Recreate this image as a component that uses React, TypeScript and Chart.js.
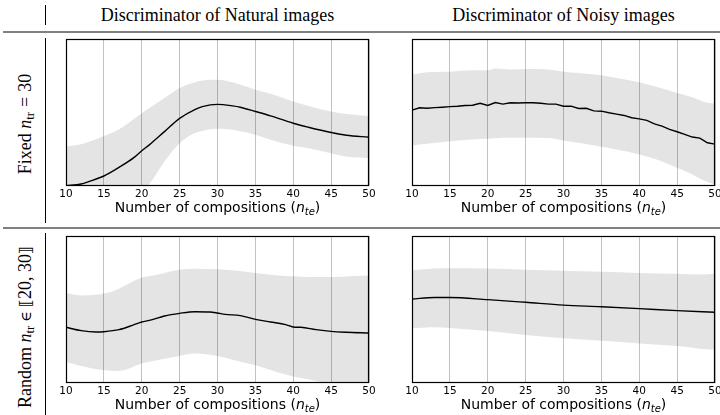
import React, { useEffect, useRef } from "react";
import { Chart, registerables } from "chart.js";

Chart.register(...registerables);

// ---------- data (y in % of plot height, 0 = bottom, 100 = top) ----------
const X_TICKS = [10, 15, 20, 25, 30, 35, 40, 45, 50];

// Top-left: Fixed n_tr = 30, Natural
const TL_MEAN_X = [10, 12, 13, 15, 17, 19, 20, 21, 23, 25, 27, 28, 30, 32, 33, 35, 37, 40, 42, 45, 47, 50];
const TL_MEAN_Y = [0.2, 1.4, 3, 6.8, 12.7, 19.5, 24, 28, 37, 46, 52, 54, 55.5, 54.5, 53.6, 50.7, 47.7, 42.7, 40, 36.4, 34.5, 33.2];
const TL_BAND_X = [10, 12, 15, 17, 20, 21, 23, 25, 27, 28, 30, 32, 35, 37, 40, 42, 45, 47, 50];
const TL_UPPER = [26.8, 28.4, 34, 38.6, 49.5, 53, 59.8, 66.6, 70.5, 71.8, 72.3, 70.5, 65.5, 62.7, 57.5, 54.5, 50.7, 49, 47.7];
const TL_LOWER = [-26.4, -24, -20.4, -16, -2, 1.4, 16.6, 29, 36, 37.5, 38.9, 38.2, 34.8, 31.4, 27.3, 25.7, 22.3, 20, 18.9];

// Top-right: Fixed n_tr = 30, Noisy
const TR_MEAN_X = [10, 11, 12, 13, 14, 15, 16, 17, 18, 19, 20, 21, 22, 23, 24, 25, 26, 27, 28, 29, 30, 31, 32, 33, 34, 35, 36, 37, 38, 39, 40, 41, 42, 43, 44, 45, 46, 47, 48, 49, 50];
const TR_MEAN_Y = [51.6, 53.2, 52.9, 53.3, 53.6, 54.0, 54.3, 54.8, 54.9, 56.3, 54.8, 56.8, 55.7, 56.6, 56.5, 56.6, 56.6, 56.3, 55.7, 55.7, 54.3, 54.3, 52.7, 52.9, 51.1, 50.9, 49.8, 48.9, 48.0, 46.4, 45.7, 44.6, 42.3, 40.7, 38.5, 36.9, 35.1, 33.3, 32.6, 29.4, 28.5];
const TR_BAND_X = [10, 12, 15, 18, 20, 21, 23, 25, 28, 30, 32, 35, 37, 40, 42, 45, 47, 49, 50];
const TR_UPPER = [75.8, 77.4, 77.8, 78.7, 78.7, 79.9, 79.2, 79.6, 79.2, 77.8, 76.9, 75.3, 73.5, 70.6, 67.9, 63.3, 60.4, 56.6, 55.9];
const TR_LOWER = [27.6, 28.7, 30.5, 31.7, 32.1, 32.5, 32.8, 32.8, 32.6, 31, 29.4, 26.7, 24.9, 21.5, 18.6, 12.4, 7.9, 2.7, 1.1];

// Bottom-left: Random n_tr, Natural
const BL_MEAN_X = [10, 12, 14, 15, 17, 19, 20, 21, 23, 25, 27, 29, 30, 31, 33, 35, 37, 39, 40, 41, 43, 45, 47, 50];
const BL_MEAN_Y = [37.9, 35.6, 34.7, 34.9, 36.3, 39.7, 41.5, 42.6, 45.6, 47.4, 48.5, 48.3, 47.6, 46.7, 45.8, 43.3, 41.5, 39.7, 38.1, 37.9, 36.3, 35.1, 34.5, 34];
const BL_BAND_X = [10, 12, 15, 17, 20, 22, 25, 27, 30, 33, 35, 38, 40, 42, 45, 48, 50];
const BL_UPPER = [61.2, 59.6, 60.8, 64.2, 71.7, 73.7, 77.1, 77.8, 77.3, 76.2, 74.8, 73.2, 72.6, 72.1, 72.1, 72.8, 73.2];
const BL_LOWER = [14.3, 11.6, 8.6, 8.2, 13.2, 15.4, 18.4, 20, 18.4, 14.5, 12, 7.2, 4.5, 2.5, -0.5, -1.3, -1.6];

// Bottom-right: Random n_tr, Noisy
const BR_MEAN_X = [10, 13, 15, 20, 25, 30, 35, 40, 45, 50];
const BR_MEAN_Y = [57.1, 58.2, 58.2, 56.7, 54.9, 53, 51.9, 50.6, 49.2, 48.1];
const BR_BAND_X = [10, 13, 15, 20, 25, 30, 35, 40, 45, 48, 50];
const BR_UPPER = [76.7, 77.9, 78.1, 77.9, 77, 76.3, 75.6, 74.9, 74.3, 73.8, 74.3];
const BR_LOWER = [37.2, 37.9, 37.5, 35.4, 32.7, 30.5, 28.7, 26.9, 25.1, 23.3, 22.6];

const COL_TITLES = ["Discriminator of Natural images", "Discriminator of Noisy images"];
const X_TITLE_MAIN = "Number of compositions (";
const X_TITLE_VAR = "n";
const X_TITLE_SUB = "te";
const X_TITLE_END = ")";

// ---------- plugins ----------
const framePlugin = {
  id: "frame",
  afterDraw(chart: any) {
    const { ctx, chartArea: a } = chart;
    ctx.save();
    ctx.strokeStyle = "#000";
    ctx.lineWidth = 1.2;
    ctx.strokeRect(a.left + 0.5, a.top + 0.5, a.right - a.left - 1, a.bottom - a.top - 1);
    ctx.restore();
  },
};

const xTitlePlugin = {
  id: "xTitle",
  afterDraw(chart: any) {
    const { ctx, chartArea: a } = chart;
    const parts = [
      { t: X_TITLE_MAIN, f: '14px "DejaVu Sans"', dy: 0 },
      { t: X_TITLE_VAR, f: 'italic 14px "DejaVu Sans"', dy: 0 },
      { t: X_TITLE_SUB, f: 'italic 10px "DejaVu Sans"', dy: 3 },
      { t: X_TITLE_END, f: '14px "DejaVu Sans"', dy: 0 },
    ];
    ctx.save();
    ctx.fillStyle = "#000";
    ctx.textBaseline = "alphabetic";
    ctx.textAlign = "left";
    let total = 0;
    const widths = parts.map((p) => {
      ctx.font = p.f;
      const w = ctx.measureText(p.t).width;
      total += w;
      return w;
    });
    let x = (a.left + a.right) / 2 - total / 2;
    const y = a.bottom + 26;
    parts.forEach((p, i) => {
      ctx.font = p.f;
      ctx.fillText(p.t, x, y + p.dy);
      x += widths[i];
    });
    ctx.restore();
  },
};

function makeConfig(
  meanX: number[], meanY: number[],
  bandX: number[], upper: number[], lower: number[],
  pad: { left: number; right: number; top: number },
  jagged: boolean
): any {
  return {
    type: "line",
    data: {
      datasets: [
        {
          data: bandX.map((x, i) => ({ x, y: upper[i] })),
          borderColor: "transparent",
          borderWidth: 0,
          pointRadius: 0,
          fill: false,
          cubicInterpolationMode: "monotone",
        },
        {
          data: bandX.map((x, i) => ({ x, y: lower[i] })),
          borderColor: "transparent",
          borderWidth: 0,
          pointRadius: 0,
          fill: "-1",
          backgroundColor: "rgba(0,0,0,0.105)",
          cubicInterpolationMode: "monotone",
        },
        {
          data: meanX.map((x, i) => ({ x, y: meanY[i] })),
          borderColor: "#000",
          borderWidth: 1.4,
          pointRadius: 0,
          fill: false,
          tension: jagged ? 0 : 0.3,
          cubicInterpolationMode: jagged ? "default" : "monotone",
        },
      ],
    },
    options: {
      animation: false,
      responsive: false,
      maintainAspectRatio: false,
      events: [],
      layout: { padding: { left: pad.left, right: pad.right, top: pad.top, bottom: 0 } },
      plugins: { legend: { display: false }, tooltip: { enabled: false } },
      scales: {
        x: {
          type: "linear",
          min: 10,
          max: 50,
          afterBuildTicks: (s: any) => {
            s.ticks = X_TICKS.map((v) => ({ value: v }));
          },
          ticks: {
            font: { family: "DejaVu Sans", size: 10.5 },
            color: "#000",
            padding: 2,
            maxRotation: 0,
            autoSkip: false,
          },
          grid: { color: "#c2c2c2", lineWidth: 1, drawTicks: false },
          border: { display: false },
          afterFit: (s: any) => {
            s.height = 36;
            s.paddingLeft = 0;
            s.paddingRight = 0;
          },
        },
        y: { display: false, min: 0, max: 100 },
      },
    },
    plugins: [framePlugin, xTitlePlugin],
  };
}

function Panel(props: { left: number; top: number; config: any }) {
  const ref = useRef<HTMLCanvasElement | null>(null);
  useEffect(() => {
    if (!ref.current) return;
    const chart = new Chart(ref.current, props.config);
    return () => chart.destroy();
  }, []);
  return (
    <canvas
      ref={ref}
      width={324}
      height={188}
      style={{ position: "absolute", left: props.left, top: props.top, width: 324, height: 188, display: "block" }}
    />
  );
}

const serif = '"Liberation Serif", "Times New Roman", serif';

function RowLabel(props: { cx: number; cy: number; children: any }) {
  return (
    <div
      style={{
        position: "absolute",
        left: props.cx,
        top: props.cy,
        transform: "translate(-50%, -50%) rotate(-90deg)",
        whiteSpace: "nowrap",
        fontFamily: serif,
        fontSize: 18,
        lineHeight: 1,
        color: "#000",
      }}
    >
      {props.children}
    </div>
  );
}

const subStyle: any = { fontSize: "70%", position: "relative", top: "0.25em" };
const opStyle: any = { margin: "0 0.28em" };
const elemStyle: any = { margin: "0 0.28em", fontFamily: '"DejaVu Serif", serif', fontSize: "80%" };
const bracketStyle: any = { fontFamily: '"DejaVu Sans", serif', fontSize: "90%" };

export default function App() {
  const leftPad = { left: 10, right: 11, top: 5 };
  const rightPad = { left: 11, right: 10, top: 5 };
  const titleStyle: any = { position: "absolute", width: 303, top: 5, textAlign: "center", fontFamily: serif, fontSize: 18, lineHeight: "20px", whiteSpace: "nowrap" };
  return (
    <div
      style={{
        position: "fixed",
        left: 0,
        top: 0,
        width: 720,
        height: 415,
        overflow: "hidden",
        background: "#fff",
      }}
    >
      {/* column titles */}
      <div style={{ ...titleStyle, left: 66 }}>{COL_TITLES[0]}</div>
      <div style={{ ...titleStyle, left: 412 }}>{COL_TITLES[1]}</div>

      {/* rules */}
      <div style={{ position: "absolute", left: 3, right: 0, top: 31, height: 2, background: "#808080" }} />
      <div style={{ position: "absolute", left: 3, right: 0, top: 227, height: 2, background: "#808080" }} />
      <div style={{ position: "absolute", left: 44.5, width: 1.5, top: 5, height: 20, background: "#000" }} />
      <div style={{ position: "absolute", left: 44.5, width: 1.5, top: 38, height: 185, background: "#000" }} />
      <div style={{ position: "absolute", left: 44.5, width: 1.5, top: 233, height: 182, background: "#000" }} />

      {/* row labels */}
      <RowLabel cx={25} cy={124}>
        Fixed <i>n</i>
        <span style={subStyle}>tr</span>
        <span style={opStyle}>=</span>30
      </RowLabel>
      <RowLabel cx={25} cy={327}>
        Random <i>n</i>
        <span style={subStyle}>tr</span>
        <span style={elemStyle}>∈</span>
        <span style={bracketStyle}>⟦</span>20, 30<span style={bracketStyle}>⟧</span>
      </RowLabel>

      <Panel left={56} top={34} config={makeConfig(TL_MEAN_X, TL_MEAN_Y, TL_BAND_X, TL_UPPER, TL_LOWER, leftPad, false)} />
      <Panel left={401} top={34} config={makeConfig(TR_MEAN_X, TR_MEAN_Y, TR_BAND_X, TR_UPPER, TR_LOWER, rightPad, true)} />
      <Panel left={56} top={231} config={makeConfig(BL_MEAN_X, BL_MEAN_Y, BL_BAND_X, BL_UPPER, BL_LOWER, leftPad, false)} />
      <Panel left={401} top={231} config={makeConfig(BR_MEAN_X, BR_MEAN_Y, BR_BAND_X, BR_UPPER, BR_LOWER, rightPad, false)} />
    </div>
  );
}
